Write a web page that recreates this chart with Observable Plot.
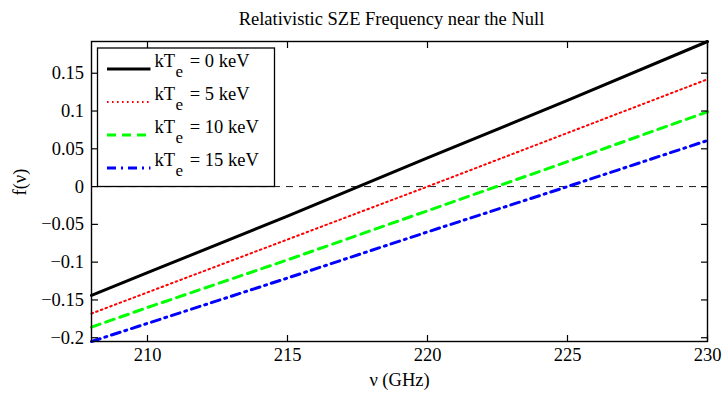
<!DOCTYPE html>
<html>
<head>
<meta charset="utf-8">
<script src="https://cdn.jsdelivr.net/npm/d3@7"></script>
<script src="https://cdn.jsdelivr.net/npm/@observablehq/plot@0.6"></script>
<style>
  html, body { margin: 0; padding: 0; background: #fff; }
  #chart svg { display: block; }
</style>
</head>
<body>
<div id="chart"></div>
<script>
// ---- data ----
const nu = [208, 210, 215, 220, 225, 230];                 // GHz
const f0  = [-0.144, -0.114, -0.039, 0.038, 0.114, 0.192];  // kTe = 0 keV
const f5  = [-0.168, -0.140, -0.070, 0.000, 0.071, 0.142];  // kTe = 5 keV
const f10 = [-0.186, -0.160, -0.097, -0.032, 0.033, 0.099]; // kTe = 10 keV
const f15 = [-0.205, -0.181, -0.121, -0.060, 0.000, 0.061]; // kTe = 15 keV
const temps = [0, 5, 10, 15];
const xTicks = [210, 215, 220, 225, 230];
const yTicks = [-0.2, -0.15, -0.1, -0.05, 0, 0.05, 0.1, 0.15];
const titleText = "Relativistic SZE Frequency near the Null";
const xLabel = "ν (GHz)";
const yLabel = "f(ν)";

// ---- styles ----
const seriesValues = [f0, f5, f10, f15];
const colors = ["#000000", "#ff0000", "#00ff00", "#0000ff"];
const dashes = [null, "1.6,3.4", "9,6", "9,5,2,5"];
const widths = [3, 2, 3, 3];
const font = "'Liberation Serif', 'Times New Roman', serif";
const fs = 18.5;

const series = temps.map((T, i) => ({
  T, color: colors[i], dash: dashes[i], width: widths[i],
  rows: nu.map((x, j) => ({nu: x, f: seriesValues[i][j]}))
}));

const allF = seriesValues.flat();
const W = 727, H = 396;
const mL = 91, mR = 20, mT = 41, mB = 55;

const svg = Plot.plot({
  width: W, height: H,
  marginLeft: mL, marginRight: mR, marginTop: mT, marginBottom: mB,
  style: {fontFamily: font, fontSize: fs + "px", background: "#fff", color: "#000"},
  x: {domain: [208, 230]},
  y: {domain: [d3.min(allF), d3.max(allF)]},
  marks: [
    Plot.ruleY([0], {stroke: "#000", strokeWidth: 0.9, strokeDasharray: "7,6"}),
    ...series.map(s => Plot.line(s.rows, {
      x: "nu", y: "f", stroke: s.color, strokeWidth: s.width,
      strokeDasharray: s.dash
    })),
    Plot.axisX(xTicks, {anchor: "bottom", tickSize: -6, tickPadding: 12, fontSize: fs, label: null, strokeWidth: 1.2}),
    Plot.axisX(xTicks, {anchor: "top", tickSize: -6, tickFormat: () => "", label: null, strokeWidth: 1.2}),
    Plot.axisY(yTicks, {anchor: "left", tickSize: -7, tickPadding: 14.5, fontSize: fs, label: null, strokeWidth: 1.2,
      tickFormat: d3.format("~g")}),
    Plot.axisY(yTicks, {anchor: "right", tickSize: -7, tickFormat: () => "", label: null, strokeWidth: 1.2}),
    Plot.frame({stroke: "#000", strokeWidth: 1.4}),
    Plot.text([titleText], {frameAnchor: "top", dy: -22, dx: -8, fontSize: fs, lineAnchor: "middle"}),
    Plot.text([xLabel], {frameAnchor: "bottom", dy: 39, fontSize: fs, lineAnchor: "middle"}),
    Plot.text([yLabel], {frameAnchor: "left", dx: -71, dy: 4, rotate: -90, fontSize: fs, lineAnchor: "middle"})
  ]
});

// ---- legend (MATLAB style box, top-left inside axes) ----
const g = d3.select(svg).append("g")
  .attr("font-family", font).attr("font-size", fs).attr("text-anchor", "start");
const box = {x: mL + 6.5, y: mT + 7, w: 177, h: 138.5};
g.append("rect")
  .attr("x", box.x).attr("y", box.y).attr("width", box.w).attr("height", box.h)
  .attr("fill", "#fff").attr("stroke", "#000").attr("stroke-width", 1.3);
series.forEach((s, i) => {
  const ly = box.y + 21 + i * 33;
  g.append("line")
    .attr("x1", box.x + 9.5).attr("x2", box.x + 53)
    .attr("y1", ly).attr("y2", ly)
    .attr("stroke", s.color).attr("stroke-width", s.width)
    .attr("stroke-dasharray", s.dash);
  const t = g.append("text").attr("x", box.x + 57).attr("y", ly - 2)
    .attr("fill", "#000").attr("text-anchor", "start");
  t.append("tspan").text("kT");
  t.append("tspan").attr("dy", 10).attr("font-size", 17).attr("dx", 0.5).text("e");
  t.append("tspan").attr("dy", -10).attr("dx", 2).text(` = ${s.T} keV`);
});

document.getElementById("chart").appendChild(svg);
</script>
</body>
</html>
